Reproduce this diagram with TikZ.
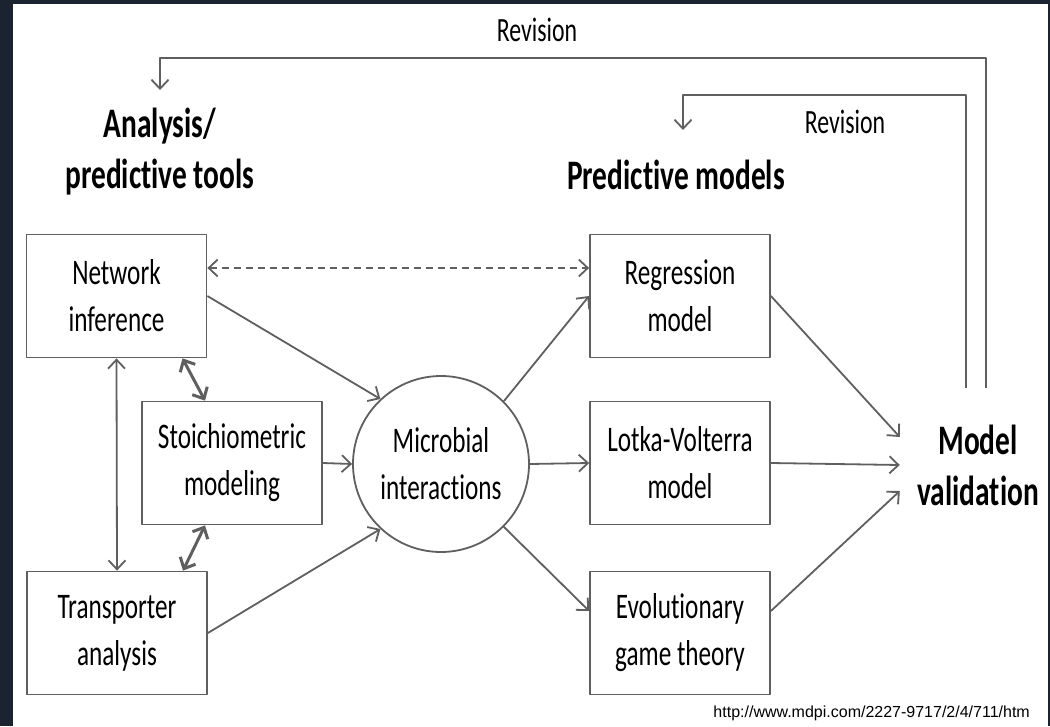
\documentclass[tikz,border=0pt]{standalone}
\usepackage{fontspec}
\setmainfont{Carlito}[FakeStretch=0.7,Ligatures=NoCommon]
\newfontfamily\urlfont{Liberation Sans}
\usepackage{tikz}
\usetikzlibrary{arrows.meta,positioning}
\definecolor{framebg}{HTML}{1C2330}
\definecolor{linegray}{HTML}{5F5F5F}
\tikzset{
  toolbox/.style={draw=linegray,line width=1.8pt,minimum width=180pt,minimum height=123pt,inner sep=0pt,align=center,font=\fontsize{36}{47}\selectfont},
  heading/.style={font=\fontsize{42}{51}\selectfont\bfseries,align=center},
  revlabel/.style={font=\fontsize{34}{40}\selectfont,inner sep=0pt},
  flow/.style={draw=linegray,line width=1.8pt,-{Straight Barb[length=9pt,width=17pt]}},
  both/.style={flow,{Straight Barb[length=9pt,width=17pt]}-{Straight Barb[length=9pt,width=17pt]}},
  link/.style={both,line width=3pt}
}
\begin{document}
\begin{tikzpicture}[x=1pt,y=-1pt,line join=round]
\useasboundingbox (0,0) rectangle (1050,726);
\fill[framebg] (0,0) rectangle (1050,726);
\fill[white] (13,4) rectangle (1048,726);
\node[toolbox] (net) at (116.5,296) {Network\\inference};
\node[toolbox] (stoi) at (232,463) {Stoichiometric\\modeling};
\node[toolbox] (trans) at (117,633) {Transporter\\analysis};
\node[circle,draw=linegray,line width=1.8pt,minimum size=176pt,inner sep=0pt,align=center,font=\fontsize{36}{47}\selectfont] (micro) at (441,464) {Microbial\\interactions};
\node[toolbox] (regr) at (680,296) {Regression\\model};
\node[toolbox] (lotka) at (680,463) {Lotka-Volterra\\model};
\node[toolbox] (evol) at (680,633) {Evolutionary\\game theory};
\node[heading,anchor=north,inner ysep=18pt] (tools) at (160,90) {Analysis/\\predictive tools};
\node[heading,anchor=north,inner ysep=30pt] (pm) at (676,130) {Predictive models};
\node[heading,minimum width=156pt,minimum height=154pt,inner sep=0pt] (valid) at (978,465) {Model\\validation};
\node[revlabel] (rev1) at (537,30) {Revision};
\node[revlabel] (rev2) at (845,122) {Revision};
\node[font=\urlfont\fontsize{16}{19}\selectfont,anchor=base east,inner sep=0pt] (src) at (1030,717) {http://www.mdpi.com/2227-9717/2/4/711/htm};
\draw[flow] ([xshift=8pt]valid.north) -- ++(0,-330) -| (tools.north);
\draw[flow] ([xshift=-12pt]valid.north) -- ++(0,-293) -| ([xshift=7pt]pm.north);
\draw[both,dash pattern=on 7pt off 5pt] ([yshift=28pt]net.east) -- ([yshift=28pt]regr.west);
\draw[flow] (net.east) -- (micro.133);
\draw[flow] (stoi.east) -- (micro.west);
\draw[flow] (trans.east) -- (micro.227);
\draw[both] (net.south) -- (trans.north);
\draw[link] ([xshift=66pt]net.south) -- ([xshift=-27pt]stoi.north);
\draw[link] ([xshift=-27pt]stoi.south) -- ([xshift=66pt]trans.north);
\draw[flow] (micro.45) -- (regr.west);
\draw[flow] (micro.east) -- (lotka.west);
\draw[flow] (micro.-45) -- ([yshift=22pt]evol.west);
\draw[flow] (regr.east) -- ([yshift=28pt]valid.west);
\draw[flow] (lotka.east) -- (valid.west);
\draw[flow] ([yshift=22pt]evol.east) -- ([yshift=-26pt]valid.west);
\end{tikzpicture}
\end{document}
